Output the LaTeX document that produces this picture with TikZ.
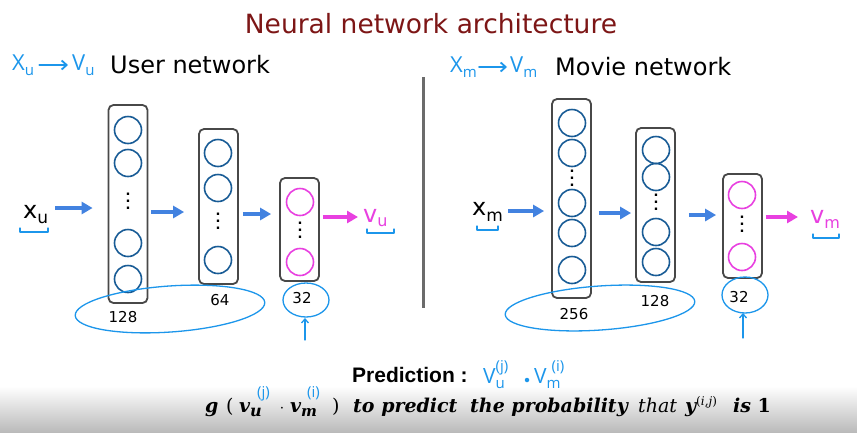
\documentclass[tikz,border=0pt]{standalone}
\usepackage{fontspec}
\setmainfont{DejaVu Sans}
\newfontfamily\hwfont{Open Sans}
\newfontfamily\predfont{Liberation Sans}
\newfontfamily\eqfont{DejaVu Serif}
\usetikzlibrary{arrows.meta,calc}

\definecolor{titlered}{RGB}{125,22,22}
\definecolor{ink}{RGB}{28,150,235}
\definecolor{flow}{RGB}{66,130,224}
\definecolor{neuron}{RGB}{25,92,150}
\definecolor{outpink}{RGB}{232,64,224}
\definecolor{frame}{RGB}{72,72,72}

% handwritten sub/superscripts
\newcommand\hwsub[1]{\raisebox{-5pt}{\fontsize{15}{15}\selectfont #1}}
\newcommand\hwsubsup[2]{\rlap{\raisebox{-5pt}{\fontsize{15}{15}\selectfont #1}}\raisebox{12pt}{\fontsize{15}{15}\selectfont #2}}
% widely spaced vertical dots
\newcommand\tallvdots{\vbox{\baselineskip=7pt\lineskiplimit=0pt\hbox{.}\hbox{.}\hbox{.}}}

\tikzset{
  layer/.style={draw=frame, line width=1.8pt, rounded corners=5pt,
    minimum width=39pt, inner sep=0pt},
  unit/.style={circle, draw=neuron, line width=1.6pt, minimum size=27pt, inner sep=0pt},
  outunit/.style={unit, draw=outpink},
  ellip/.style={inner sep=0pt, font=\bfseries\fontsize{13}{13}\selectfont},
  flowarrow/.style={draw=flow, line width=3.4pt, -{Triangle[length=11pt,width=12pt]}},
  outarrow/.style={flowarrow, draw=outpink},
  hand/.style={draw=ink, line width=1.3pt, line cap=round, line join=round},
  hwtext/.style={text=ink, inner sep=0pt, font=\hwfont\fontsize{22}{22}\selectfont},
  heading/.style={inner sep=0pt, font=\fontsize{24}{24}\selectfont},
  size/.style={inner sep=0pt, font=\fontsize{15}{15}\selectfont},
  invar/.style={inner sep=0pt, font=\fontsize{24}{24}\selectfont},
  outvar/.style={invar, text=outpink},
  eq/.style={inner sep=0pt, anchor=base west, font=\eqfont\bfseries\itshape\fontsize{19}{19}\selectfont},
  equp/.style={inner sep=0pt, anchor=base west, font=\eqfont\fontsize{19}{19}\selectfont},
  eqit/.style={inner sep=0pt, anchor=base west, font=\eqfont\itshape\fontsize{19}{19}\selectfont},
  hwsup/.style={text=ink, inner sep=0pt, anchor=base west, font=\hwfont\fontsize{15}{15}\selectfont},
}

\begin{document}
\begin{tikzpicture}[x=1pt,y=-1pt]
\useasboundingbox (0,0) rectangle (857,432);
\fill[white] (0,0) rectangle (857,432);
\shade[top color=white, bottom color=black!27] (0,386) rectangle (857,432);

% title
\node[inner sep=0pt, anchor=base, text=titlered, font=\fontsize{26.5}{26.5}\selectfont] (title) at (431,33) {Neural network architecture};

% divider
\draw[line width=3pt, color=black!58] (423,77) -- (423,308);

% ---------------- user network ----------------
\node[hwtext, anchor=base west] (hxu) at (12,70) {X\hwsub{u}};
\node[hwtext, anchor=base west] (hvu) at (72,70) {V\hwsub{u}};
\draw[hand, line width=1.8pt, -{Straight Barb[length=5pt,width=9pt]}, shorten <=5pt, shorten >=4pt] (hxu.east |- 0,65) -- (hvu.west |- 0,65);
\node[heading, anchor=base west] (uhead) at (110,73) {User network};

\node[layer, minimum height=198pt] (u1) at (128,204) {};
\node[unit] (u1a) at (128,130) {};
\node[unit] (u1b) at (128,163) {};
\node[ellip] (u1d) at (128,201) {\tallvdots};
\node[unit] (u1c) at (128,243) {};
\node[unit] (u1e) at (128,279) {};

\node[layer, minimum height=155pt] (u2) at (218.5,206.5) {};
\node[unit] (u2a) at (218,153) {};
\node[unit] (u2b) at (218,188) {};
\node[ellip] (u2d) at (218,221) {\tallvdots};
\node[unit] (u2c) at (218,260) {};

\node[layer, minimum height=103pt] (u3) at (299.5,229.5) {};
\node[outunit] (u3a) at (300,202) {};
\node[ellip] (u3d) at (300,230) {\tallvdots};
\node[outunit] (u3b) at (300,262) {};

\node[size] (u1n) at (123,317) {128};
\node[size] (u2n) at (220,300) {64};
\node[size] (u3n) at (302,298) {32};

\node[invar, anchor=base west] (xu) at (23,218) {x\raisebox{-5pt}{\fontsize{17}{17}\selectfont u}};
\node[outvar, anchor=base west] (vu) at (363,222) {v\raisebox{-4pt}{\fontsize{16}{16}\selectfont u}};

\draw[flowarrow, shorten <=7pt, shorten >=15pt] (xu.east |- 0,208) -- (u1.west |- 0,208);
\draw[flowarrow, shorten <=3pt, shorten >=14pt] (u1.east |- 0,212) -- (u2.west |- 0,212);
\draw[flowarrow, shorten <=4pt, shorten >=8pt] (u2.east |- 0,214) -- (u3.west |- 0,214);
\draw[outarrow, shorten <=3pt, shorten >=5pt] (u3.east |- 0,217) -- (vu.west |- 0,217);

% brackets under the input and output vectors
\draw[hand] (20,228) -- (20,232) -- (48,232) -- (48,228);
\draw[hand] (367,229) -- (367,233) -- (394,233) -- (394,229);

% loops around the hidden layers and the output size
\draw[hand, rotate around={4:(170,309)}] (170,309) ellipse [x radius=95, y radius=23];
\draw[hand] (306,300) ellipse [x radius=23, y radius=17];
\coordinate (uptail) at (305,340);
\draw[hand, -{Straight Barb[length=4pt,width=7pt]}] (uptail) -- (305,318);

% ---------------- movie network ----------------
\node[hwtext, anchor=base west] (hxm) at (450,72) {X\hwsub{m}};
\node[hwtext, anchor=base west] (hvm) at (510,72) {V\hwsub{m}};
\draw[hand, line width=1.8pt, -{Straight Barb[length=5pt,width=9pt]}, shorten <=2pt, shorten >=3pt] (hxm.east |- 0,67) -- (hvm.west |- 0,67);
\node[heading, anchor=base west] (mhead) at (555,75) {Movie network};

\node[layer, minimum height=199pt] (m1) at (571.5,198.5) {};
\node[unit] (m1a) at (572,123) {};
\node[unit] (m1b) at (572,153) {};
\node[ellip] (m1d) at (572,178) {\tallvdots};
\node[unit] (m1c) at (572,203) {};
\node[unit] (m1e) at (572,233) {};
\node[unit] (m1f) at (572,270) {};

\node[layer, minimum height=154pt] (m2) at (655.5,205) {};
\node[unit] (m2a) at (656,150) {};
\node[unit] (m2b) at (656,177) {};
\node[ellip] (m2d) at (656,202) {\tallvdots};
\node[unit] (m2c) at (656,232) {};
\node[unit] (m2e) at (656,262) {};

\node[layer, minimum height=104pt] (m3) at (742.5,226) {};
\node[outunit] (m3a) at (742,195) {};
\node[ellip] (m3d) at (742,224) {\tallvdots};
\node[outunit] (m3b) at (742,257) {};

\node[size] (m1n) at (574,314) {256};
\node[size] (m2n) at (655,301) {128};
\node[size] (m3n) at (739,297) {32};

\node[invar, anchor=base west] (xm) at (472,215) {x\raisebox{-6pt}{\fontsize{17}{17}\selectfont m}};
\node[outvar, anchor=base west] (vm) at (810,223) {v\raisebox{-5pt}{\fontsize{16}{16}\selectfont m}};

\draw[flowarrow, shorten <=5pt, shorten >=7pt] (xm.east |- 0,211) -- (m1.west |- 0,211);
\draw[flowarrow, shorten <=7pt, shorten >=4pt] (m1.east |- 0,213) -- (m2.west |- 0,213);
\draw[flowarrow, shorten <=13pt, shorten >=6pt] (m2.east |- 0,215) -- (m3.west |- 0,215);
\draw[outarrow, shorten <=3pt, shorten >=12pt] (m3.east |- 0,217) -- (vm.west |- 0,217);

\draw[hand] (477,226) -- (477,230) -- (498,230) -- (498,226);
\draw[hand] (813,234) -- (813,238) -- (839,238) -- (839,234);

\draw[hand, rotate around={4:(600,308)}] (600,308) ellipse [x radius=95, y radius=22];
\draw[hand] (745,295) ellipse [x radius=23, y radius=18];
\coordinate (mtail) at (743,338);
\draw[hand, -{Straight Barb[length=4pt,width=7pt]}] (mtail) -- (743,313);

% ---------------- prediction ----------------
\node[inner sep=0pt, anchor=base west, font=\predfont\bfseries\fontsize{21}{21}\selectfont] (pred) at (352,382) {Prediction :};
\node[hwtext, font=\hwfont\fontsize{21}{21}\selectfont, anchor=base west] (pvu) at (483,383) {V\hwsubsup{u}{(j)}};
\node[circle, fill=ink, inner sep=0pt, minimum size=4.5pt] (pdot) at (527,380) {};
\node[hwtext, font=\hwfont\fontsize{21}{21}\selectfont, anchor=base west] (pvm) at (534,383) {V\hwsubsup{m}{\hspace{5pt}(i)}};

\node[eq] (g) at (205,412) {g};
\node[equp] (lp) at (226,412) {(};
\node[eq] (ev1) at (239,412) {v\raisebox{-4pt}{\fontsize{16}{16}\selectfont u}};
\node[hwsup] (ev1s) at (257,397) {(j)};
\node[equp, anchor=base] (edot) at (282,412) {$\cdot$};
\node[eq] (ev2) at (290,412) {v\raisebox{-4pt}{\fontsize{15}{15}\selectfont m}};
\node[hwsup] (ev2s) at (307,397) {(i)};
\node[equp] (rp) at (332,412) {)};
\node[eq] (tp) at (353,412) {to predict};
\node[eq] (prob) at (470,412) {the probability};
\node[eqit] (that) at (638,412) {that};
\node[eq] (yv) at (685,412) {y\raisebox{7pt}{\mdseries\upshape\fontsize{12}{12}\selectfont(\textit{i,j})}};
\node[eq] (is1) at (733,412) {is \upshape 1};
\end{tikzpicture}
\end{document}
